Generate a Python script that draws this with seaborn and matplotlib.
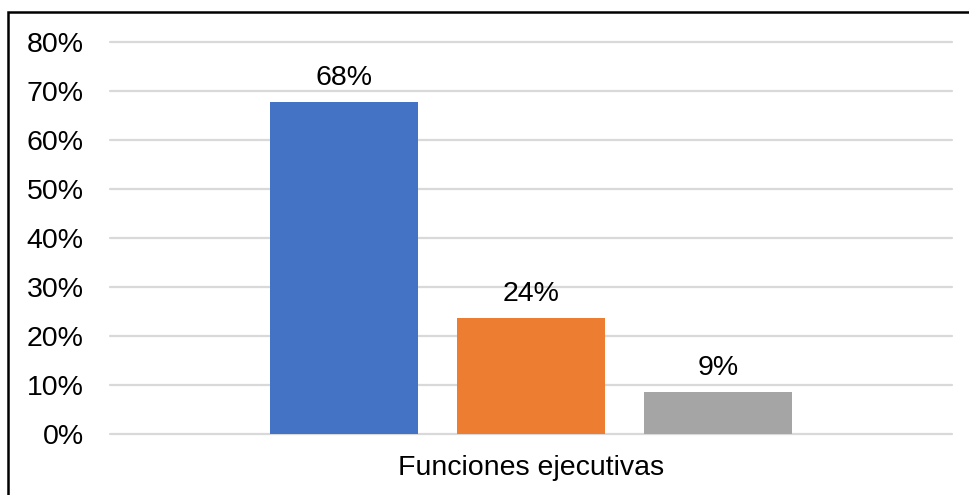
import pandas as pd
import matplotlib.pyplot as plt
import seaborn as sns
from matplotlib.patches import Rectangle
from matplotlib.ticker import PercentFormatter

# data
categoria = ["Funciones ejecutivas"]
series = ["Serie 1", "Serie 2", "Serie 3"]
valores = [0.678, 0.236, 0.086]
colores = ["#4472C4", "#ED7D31", "#A5A5A5"]
yticks = [0.0, 0.1, 0.2, 0.3, 0.4, 0.5, 0.6, 0.7, 0.8]

df = pd.DataFrame({
    "categoria": categoria * len(series),
    "serie": series,
    "valor": valores,
})

sns.set_style("white")
plt.rcParams["font.family"] = ["Liberation Sans", "DejaVu Sans"]

fig = plt.figure(figsize=(9.69, 4.95), dpi=100)
ax = fig.add_axes([110 / 969, 61 / 495, 842 / 969, 392 / 495])

sns.barplot(data=df, x="categoria", y="valor", hue="serie", hue_order=series,
            palette=colores, saturation=1, width=0.666, gap=0.21,
            errorbar=None, legend=False, linewidth=0, ax=ax)

for c in ax.containers:
    ax.bar_label(c, fmt=lambda v: f"{v:.0%}", padding=8, fontsize=20.5, color="black")

ax.set_xlim(-0.5, 0.5)
ax.set_ylim(0, 0.8)
ax.set_yticks(yticks)
ax.yaxis.set_major_formatter(PercentFormatter(1.0, decimals=0))
ax.set_xlabel("")
ax.set_ylabel("")
ax.tick_params(axis="y", length=0, pad=19, labelsize=20.5, labelcolor="black")
ax.tick_params(axis="x", length=0, pad=15, labelsize=20.5, labelcolor="black")

ax.set_axisbelow(True)
ax.grid(axis="y", color="#D9D9D9", linewidth=1.6)
for gl in ax.get_ygridlines():
    gl.set_clip_on(False)
sns.despine(ax=ax, left=True, bottom=True)

# outer frame (chart is cropped on the right and bottom)
fig.add_artist(Rectangle((8 / 969, -0.2), 1.5, (495 - 12) / 495 + 0.2,
                         transform=fig.transFigure, fill=False,
                         edgecolor="black", linewidth=1.8))

fig.savefig("out.png", dpi=100)
